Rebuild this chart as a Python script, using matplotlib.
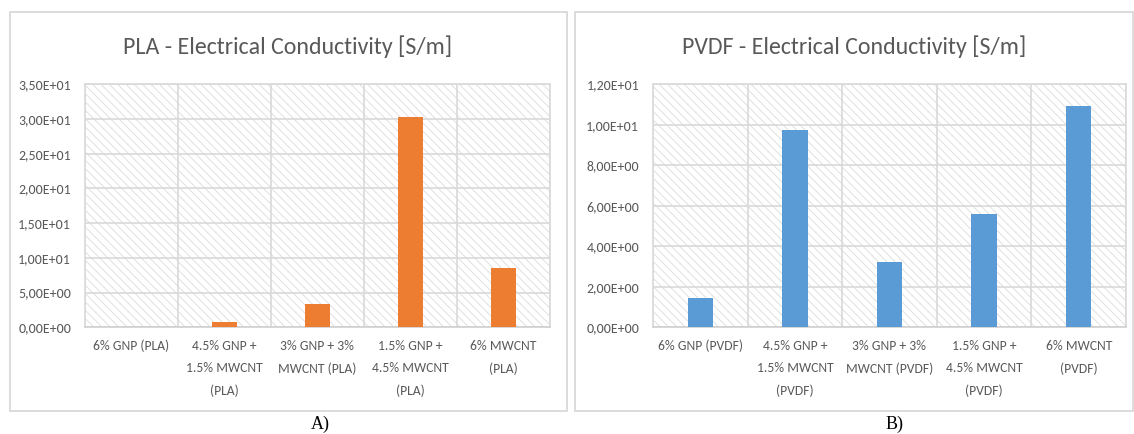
import matplotlib
matplotlib.use("Agg")
import matplotlib.pyplot as plt
from matplotlib.patches import Rectangle
from matplotlib.ticker import FuncFormatter

# ---- data ----
pla_labels = ["6% GNP (PLA)", "4.5% GNP +\n1.5% MWCNT\n(PLA)", "3% GNP + 3%\nMWCNT (PLA)",
              "1.5% GNP +\n4.5% MWCNT\n(PLA)", "6% MWCNT\n(PLA)"]
pla_values = [0.0, 0.75, 3.4, 30.3, 8.5]
pla_ticks = [0, 5, 10, 15, 20, 25, 30, 35]

pvdf_labels = ["6% GNP (PVDF)", "4.5% GNP +\n1.5% MWCNT\n(PVDF)", "3% GNP + 3%\nMWCNT (PVDF)",
               "1.5% GNP +\n4.5% MWCNT\n(PVDF)", "6% MWCNT\n(PVDF)"]
pvdf_values = [1.43, 9.72, 3.22, 5.6, 10.95]
pvdf_ticks = [0, 2, 4, 6, 8, 10, 12]

titles = ["PLA - Electrical Conductivity [S/m]", "PVDF - Electrical Conductivity [S/m]"]
captions = ["A)", "B)"]

W, H = 1134, 434
plt.rcParams['hatch.linewidth'] = 0.6
fig = plt.figure(figsize=(W / 100, H / 100), dpi=100)

TXT = "#595959"
GRID = "#d9d9d9"
FONT = ["Carlito", "DejaVu Sans"]


def fmt(v, pos):
    s = "%.2E" % v
    return s.replace(".", ",")


def px_rect(x0, y0, x1, y1):
    return [x0 / W, 1 - y1 / H, (x1 - x0) / W, (y1 - y0) / H]


def draw(ax_px, frame_px, labels, values, ticks, color, title, caption, cap_x):
    fx0, fy0, fx1, fy1 = frame_px
    fig.patches.append(Rectangle((fx0 / W, 1 - fy1 / H), (fx1 - fx0) / W, (fy1 - fy0) / H,
                                 transform=fig.transFigure, facecolor="white",
                                 edgecolor=GRID, lw=1.3, zorder=-5))
    ax = fig.add_axes(px_rect(*ax_px))
    ax.set_zorder(2)
    ax.set_facecolor("none")
    ax.add_patch(Rectangle((0, 0), 1, 1, transform=ax.transAxes, facecolor="white",
                           edgecolor="#dcdcdc", hatch="\\\\\\\\", lw=0, zorder=0))
    x = list(range(len(values)))
    ax.bar(x, values, width=0.27, color=color, zorder=3)
    ax.set_xlim(-0.5, len(values) - 0.5)
    ax.set_ylim(ticks[0], ticks[-1])
    ax.set_yticks(ticks)
    ax.yaxis.set_major_formatter(FuncFormatter(fmt))
    ax.set_xticks(x)
    ax.set_xticklabels(labels, fontsize=9.8, color=TXT, family=FONT, linespacing=2.0, va="top")
    for lab in ax.get_yticklabels():
        lab.set_fontsize(10)
        lab.set_color(TXT)
        lab.set_family(FONT)
    ax.tick_params(length=0, axis="y", pad=10)
    ax.tick_params(length=0, axis="x", pad=9)
    for v in ticks:
        ax.axhline(v, color=GRID, lw=1.2, zorder=1)
    for b in range(len(values) + 1):
        ax.axvline(b - 0.5, color=GRID, lw=1.2, zorder=1)
    for s in ax.spines.values():
        s.set_color(GRID)
        s.set_linewidth(1.2)
    ax.spines["bottom"].set_color("#d0d0d0")
    fig.text((fx0 + fx1) / 2 / W, 1 - 53.5 / H, title, ha="center", va="baseline",
             fontsize=17.2, color=TXT, family=FONT)
    fig.text(cap_x / W, 1 - 424 / H, caption, ha="center", va="center", fontsize=13,
             family=["Liberation Serif", "DejaVu Serif"], color="black")
    return ax


draw((85, 84.3, 550, 327.3), (9.5, 11.5, 566.5, 410.5), pla_labels, pla_values, pla_ticks,
     "#ed7d31", titles[0], captions[0], 320)
draw((653, 84.3, 1126, 327.3), (574.5, 11.5, 1133, 410.5), pvdf_labels, pvdf_values, pvdf_ticks,
     "#5b9bd5", titles[1], captions[1], 895)

fig.savefig("out.png", dpi=100, facecolor="white")
